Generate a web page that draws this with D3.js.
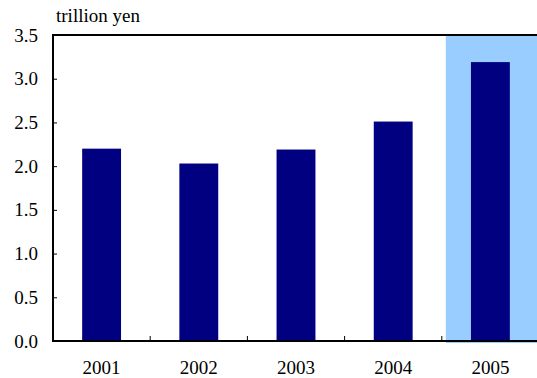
<!DOCTYPE html>
<html lang="en">
<head>
<meta charset="utf-8">
<title>trillion yen</title>
<script src="https://d3js.org/d3.v7.min.js"></script>
<style>
  body { margin: 0; background: #fff; }
</style>
</head>
<body>
<svg id="chart"></svg>
<script>
var years = ["2001", "2002", "2003", "2004", "2005"];
var values = [2.20, 2.03, 2.19, 2.51, 3.19];
var yTicks = [0, 0.5, 1.0, 1.5, 2.0, 2.5, 3.0, 3.5];
var highlightYear = "2005";

var width = 537, height = 378;
var margin = {left: 53, right: -2, top: 35, bottom: 37};
var serif = "'Liberation Serif', 'Times New Roman', Times, serif";
var fontSize = 19;

var svg = d3.select("#chart").attr("width", width).attr("height", height)
  .style("display", "block");

var xScale = d3.scaleBand()
  .domain(years)
  .range([margin.left, width - margin.right])
  .paddingInner(0)
  .paddingOuter(0);

var yScale = d3.scaleLinear()
  .domain([0, 3.5])
  .range([height - margin.bottom, margin.top]);

var barW = xScale.bandwidth() * 0.4;

// highlighted band
svg.append("rect")
  .attr("x", xScale(highlightYear) + 4)
  .attr("y", yScale(3.5))
  .attr("width", width - xScale(highlightYear) - 4)
  .attr("height", yScale(0) - yScale(3.5) + 2)
  .attr("fill", "#99ccff");

// bars
svg.selectAll("rect.bar")
  .data(values)
  .enter()
  .append("rect")
  .attr("class", "bar")
  .attr("x", (d, i) => xScale(years[i]) + (xScale.bandwidth() - barW) / 2)
  .attr("y", d => yScale(d))
  .attr("width", barW)
  .attr("height", d => yScale(0) - yScale(d))
  .attr("fill", "#000080");

// y axis
var yAxis = d3.axisLeft(yScale)
  .tickValues(yTicks)
  .tickFormat(d3.format(".1f"))
  .tickSize(-4)
  .tickPadding(15);

svg.append("g")
  .attr("transform", "translate(" + margin.left + ",0)")
  .call(yAxis)
  .attr("font-family", serif)
  .attr("font-size", fontSize)
  .call(g => g.select(".domain").remove())
  .call(g => g.selectAll("line").attr("stroke", "#000"))
  .call(g => g.selectAll("text").attr("fill", "#000"));

// x axis ticks at category boundaries
var boundaries = years.slice(1).map(y => xScale(y));
svg.selectAll("line.xtick")
  .data(boundaries)
  .enter()
  .append("line")
  .attr("class", "xtick")
  .attr("x1", d => d).attr("x2", d => d)
  .attr("y1", yScale(0)).attr("y2", yScale(0) - 5)
  .attr("stroke", "#000");

svg.selectAll("text.xlabel")
  .data(years)
  .enter()
  .append("text")
  .attr("class", "xlabel")
  .attr("x", d => xScale(d) + xScale.bandwidth() / 2)
  .attr("y", 374)
  .attr("text-anchor", "middle")
  .attr("font-family", serif)
  .attr("font-size", fontSize)
  .text(d => d);

// frame lines
svg.append("line")
  .attr("x1", margin.left).attr("x2", width)
  .attr("y1", yScale(0)).attr("y2", yScale(0))
  .attr("stroke", "#000").attr("stroke-width", 2);
svg.append("line")
  .attr("x1", margin.left).attr("x2", width)
  .attr("y1", yScale(3.5)).attr("y2", yScale(3.5))
  .attr("stroke", "#000").attr("stroke-width", 2);
svg.append("line")
  .attr("x1", margin.left).attr("x2", margin.left)
  .attr("y1", yScale(3.5) - 1).attr("y2", yScale(0) + 1)
  .attr("stroke", "#000").attr("stroke-width", 2);

// unit label
svg.append("text")
  .attr("x", 56)
  .attr("y", 22)
  .attr("font-family", serif)
  .attr("font-size", fontSize)
  .text("trillion yen");
</script>
</body>
</html>
